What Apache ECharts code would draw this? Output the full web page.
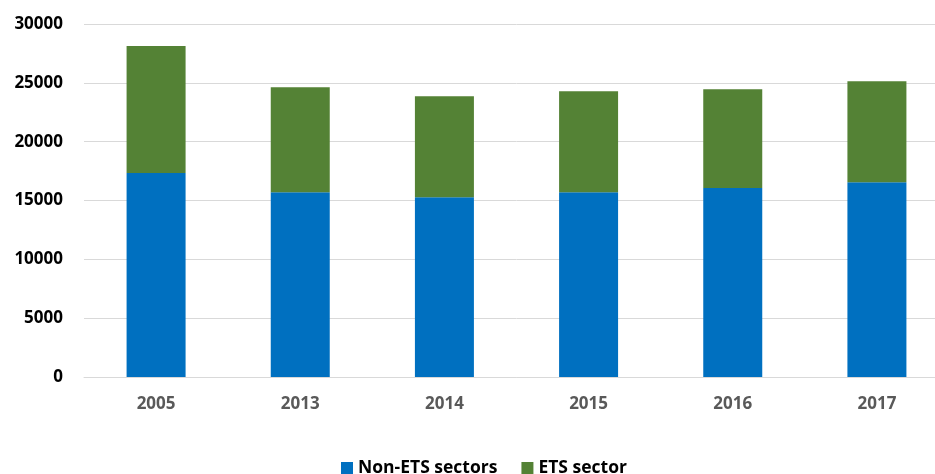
<!DOCTYPE html>
<html>
<head>
<meta charset="utf-8">
<script src="https://cdn.jsdelivr.net/npm/echarts@6/dist/echarts.min.js"></script>
<style>
  html, body { margin: 0; padding: 0; background: #fff; overflow: hidden; }
  #main { width: 950px; height: 474px; }
</style>
</head>
<body>
<div id="main"></div>
<script>
const years = ['2005', '2013', '2014', '2015', '2016', '2017'];
const nonEts = [17340, 15700, 15270, 15700, 16060, 16550];
const ets = [10790, 8920, 8590, 8580, 8390, 8580];

const font = '"Open Sans", "Liberation Sans", sans-serif';

const option = {
  animation: false,
  grid: { left: 84, right: 1, top: 24, bottom: 97 },
  legend: {
    left: 336,
    top: 454,
    itemWidth: 12,
    itemHeight: 12,
    itemGap: 24,
    icon: 'rect',
    textStyle: { fontFamily: font, fontWeight: 'bold', fontSize: 17.5, color: '#000' },
    data: ['Non-ETS sectors', 'ETS sector']
  },
  xAxis: {
    type: 'category',
    data: years,
    axisLine: { lineStyle: { color: '#d9d9d9', width: 1 } },
    axisTick: { show: false },
    axisLabel: { margin: 19, fontFamily: font, fontWeight: 'bold', fontSize: 17, color: '#595959' }
  },
  yAxis: {
    type: 'value',
    min: 0,
    max: 30000,
    interval: 5000,
    axisLine: { show: false },
    axisTick: { show: false },
    splitLine: { lineStyle: { color: '#d9d9d9', width: 1 } },
    axisLabel: {
      margin: 21, fontFamily: font, fontWeight: 'bold', fontSize: 17, color: '#000',
      formatter: v => String(v)
    }
  },
  series: [
    {
      name: 'Non-ETS sectors',
      type: 'bar',
      stack: 'total',
      barWidth: 59,
      itemStyle: { color: '#0070c0' },
      data: nonEts
    },
    {
      name: 'ETS sector',
      type: 'bar',
      stack: 'total',
      barWidth: 59,
      itemStyle: { color: '#548235' },
      data: ets
    }
  ]
};

echarts.init(document.getElementById('main')).setOption(option);
</script>
</body>
</html>
